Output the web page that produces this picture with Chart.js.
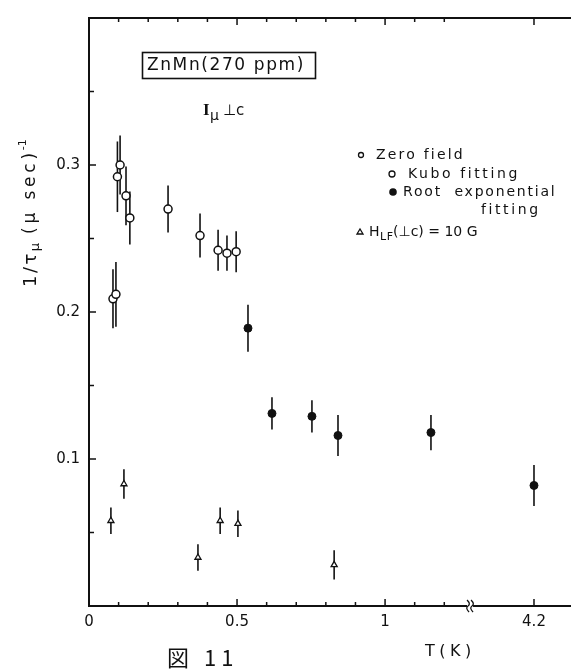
<!DOCTYPE html>
<html>
<head>
<meta charset="utf-8">
<script src="https://cdn.jsdelivr.net/npm/chart.js@4/dist/chart.umd.min.js"></script>
<style>
  html, body { margin: 0; padding: 0; background: #fff; }
  #wrap { position: relative; width: 571px; height: 671px; }
</style>
</head>
<body>
<div id="wrap"><canvas id="c" width="571" height="671"></canvas></div>
<script>
// 数据：T (K) 与 1/tau_mu (us^-1)，误差为 ±
var kuboT   = [0.081, 0.091, 0.096, 0.105, 0.125, 0.138, 0.267, 0.375, 0.436, 0.466, 0.497];
var kuboY   = [0.209, 0.212, 0.292, 0.300, 0.279, 0.264, 0.270, 0.252, 0.242, 0.240, 0.241];
var kuboErr = [0.020, 0.022, 0.024, 0.020, 0.020, 0.018, 0.016, 0.015, 0.014, 0.012, 0.014];

var rootT   = [0.537, 0.618, 0.753, 0.841, 1.155, 4.2];
var rootY   = [0.189, 0.131, 0.129, 0.116, 0.118, 0.082];
var rootErr = [0.016, 0.011, 0.011, 0.014, 0.012, 0.014];

var lfT     = [0.074, 0.118, 0.368, 0.443, 0.503, 0.828];
var lfY     = [0.058, 0.083, 0.033, 0.058, 0.056, 0.028];
var lfErr   = [0.009, 0.010, 0.009, 0.009, 0.009, 0.010];

// 坐标轴刻度
var xTicks  = [0, 0.1, 0.2, 0.3, 0.4, 0.5, 0.6, 0.7, 0.8, 0.9, 1.0, 1.1, 1.2, 4.2];
var xLabels = { '0': '0', '0.5': '0.5', '1': '1', '4.2': '4.2' };
var yTicks  = [0.05, 0.1, 0.15, 0.2, 0.25, 0.3, 0.35];
var yLabels = { '0.1': '0.1', '0.2': '0.2', '0.3': '0.3' };

// 断轴：1.29 之后跳到 4.2
var BREAK_AT = 1.287;
function toAxis(t) {
    return t <= 1.3 ? t : 1.503 + (t - 4.2) * 0.5;
}

function pts(xs, ys) {
    return xs.map(function(t, i) { return { x: toAxis(t), y: ys[i] }; });
}

var FONT = '"DejaVu Sans", "Liberation Sans", sans-serif';

// 带字距的文字
function spaced(ctx, text, x, y, sp) {
    ctx.letterSpacing = sp + 'px';
    ctx.fillText(text, x, y);
    var w = ctx.measureText(text).width;
    ctx.letterSpacing = '0px';
    return w;
}

// 误差棒 + 边框/内刻度 + 文字注释
var decorPlugin = {
    id: 'decor',
    beforeDatasetsDraw: function(chart) {
        var ctx = chart.ctx;
        var xs = chart.scales.x, ys = chart.scales.y;
        ctx.save();
        ctx.strokeStyle = '#111';
        ctx.lineWidth = 1.6;
        chart.data.datasets.forEach(function(ds) {
            ds.data.forEach(function(p, i) {
                var px = xs.getPixelForValue(p.x);
                ctx.beginPath();
                ctx.moveTo(px, ys.getPixelForValue(p.y - ds.errors[i]));
                ctx.lineTo(px, ys.getPixelForValue(p.y + ds.errors[i]));
                ctx.stroke();
            });
        });
        ctx.restore();
    },
    afterDraw: function(chart) {
        var ctx = chart.ctx;
        var a = chart.chartArea;
        var xs = chart.scales.x, ys = chart.scales.y;
        ctx.save();
        ctx.strokeStyle = '#111';
        ctx.lineWidth = 2;
        // 上边框
        ctx.beginPath();
        ctx.moveTo(a.left, a.top);
        ctx.lineTo(a.right, a.top);
        ctx.stroke();

        // 内向刻度
        ctx.lineWidth = 1.5;
        xTicks.forEach(function(t) {
            var px = xs.getPixelForValue(toAxis(t));
            var len = xLabels[String(t)] ? 7 : 4;
            ctx.beginPath();
            ctx.moveTo(px, a.bottom); ctx.lineTo(px, a.bottom - len);
            ctx.moveTo(px, a.top); ctx.lineTo(px, a.top + len);
            ctx.stroke();
        });
        yTicks.forEach(function(v) {
            var py = ys.getPixelForValue(v);
            var len = yLabels[String(v)] ? 7 : 5;
            ctx.beginPath();
            ctx.moveTo(a.left, py); ctx.lineTo(a.left + len, py);
            ctx.stroke();
        });

        // 断轴记号
        var bx = xs.getPixelForValue(BREAK_AT);
        ctx.fillStyle = '#fff';
        ctx.fillRect(bx - 3, a.bottom - 3, 6, 6);
        ctx.lineWidth = 1.3;
        [-2, 2].forEach(function(d) {
            ctx.beginPath();
            ctx.moveTo(bx + d - 1, a.bottom - 6);
            ctx.quadraticCurveTo(bx + d + 3, a.bottom - 2, bx + d, a.bottom);
            ctx.quadraticCurveTo(bx + d - 3, a.bottom + 2, bx + d + 1, a.bottom + 6);
            ctx.stroke();
        });

        ctx.fillStyle = '#111';
        ctx.textBaseline = 'middle';

        // 标题框
        ctx.font = '17px ' + FONT;
        ctx.textAlign = 'left';
        spaced(ctx, 'ZnMn(270 ppm)', 147, 66, 1.6);
        ctx.lineWidth = 1.6;
        ctx.strokeRect(142.5, 52.5, 173, 26);

        // I_mu ⊥ c
        ctx.font = 'bold 17px "Liberation Serif", serif';
        ctx.fillText('I', 203, 111);
        ctx.font = '14px ' + FONT;
        ctx.fillText('\u03bc', 210, 116);
        ctx.font = '15px ' + FONT;
        ctx.fillText('\u22a5c', 223, 111);

        // 图例
        ctx.font = '14px ' + FONT;
        ctx.lineWidth = 1.3;
        ctx.beginPath(); ctx.arc(361, 155, 2.5, 0, Math.PI * 2); ctx.stroke();
        spaced(ctx, 'Zero field', 376, 155, 2.2);
        ctx.beginPath(); ctx.arc(392, 174, 3, 0, Math.PI * 2); ctx.stroke();
        spaced(ctx, 'Kubo fitting', 408, 174, 2.6);
        ctx.beginPath(); ctx.arc(393, 192, 3.8, 0, Math.PI * 2); ctx.fill();
        spaced(ctx, 'Root  exponential', 403, 192, 1.8);
        spaced(ctx, 'fitting', 481, 210, 2.6);
        ctx.beginPath();
        ctx.moveTo(357, 234); ctx.lineTo(363, 234); ctx.lineTo(360, 229); ctx.closePath();
        ctx.stroke();
        ctx.fillText('H', 369, 232);
        ctx.font = '11px ' + FONT;
        spaced(ctx, 'LF', 380, 237, 0.5);
        ctx.font = '14px ' + FONT;
        spaced(ctx, '(\u22a5c) = 10 G', 393, 232, 0);

        // 纵轴标题
        ctx.save();
        ctx.translate(31, 210);
        ctx.rotate(-Math.PI / 2);
        ctx.textAlign = 'left';
        var x0 = -77;
        ctx.font = '18px ' + FONT;
        x0 += spaced(ctx, '1/\u03c4', x0, 0, 2.5);
        ctx.font = '13px ' + FONT;
        x0 += spaced(ctx, '\u03bc', x0, 5, 0) + 9;
        ctx.font = '17px ' + FONT;
        x0 += spaced(ctx, '(\u03bc sec)', x0, 0, 3.8);
        ctx.font = '11px ' + FONT;
        ctx.fillText('-1', x0 - 1, -8);
        ctx.restore();

        // 横轴标题
        ctx.font = '16px ' + FONT;
        spaced(ctx, 'T(K)', 425, 652, 4.5);

        // 图号
        ctx.font = '22px "Noto Sans CJK JP", sans-serif';
        spaced(ctx, '\u56f3 11', 167, 658, 5);
        ctx.restore();
    }
};

new Chart(document.getElementById('c'), {
    type: 'scatter',
    data: {
        datasets: [
            {
                label: 'Kubo fitting',
                data: pts(kuboT, kuboY),
                errors: kuboErr,
                pointStyle: 'circle',
                pointRadius: 4,
                pointBorderWidth: 1.5,
                pointBackgroundColor: '#fff',
                pointBorderColor: '#111'
            },
            {
                label: 'Root exponential fitting',
                data: pts(rootT, rootY),
                errors: rootErr,
                pointStyle: 'circle',
                pointRadius: 4,
                pointBorderWidth: 1,
                pointBackgroundColor: '#111',
                pointBorderColor: '#111'
            },
            {
                label: 'H_LF(⊥c) = 10 G',
                data: pts(lfT, lfY),
                errors: lfErr,
                pointStyle: 'triangle',
                pointRadius: 3.5,
                pointBorderWidth: 1.3,
                pointBackgroundColor: '#fff',
                pointBorderColor: '#111'
            }
        ]
    },
    options: {
        responsive: false,
        animation: false,
        layout: { autoPadding: false, padding: { top: 15, right: 0, left: 0, bottom: 0 } },
        plugins: {
            legend: { display: false },
            tooltip: { enabled: false }
        },
        scales: {
            x: {
                type: 'linear',
                min: 0,
                max: 1.628,
                afterBuildTicks: function(s) {
                    s.ticks = xTicks.map(function(t) { return { value: toAxis(t) }; });
                },
                afterFit: function(s) { s.height = 65; },
                ticks: {
                    autoSkip: false,
                    maxRotation: 0,
                    padding: 7,
                    color: '#111',
                    font: { family: FONT, size: 15 },
                    callback: function(v, i) { return xLabels[String(xTicks[i])] || ''; }
                },
                grid: { display: false, drawTicks: false },
                border: { display: true, color: '#111', width: 2 }
            },
            y: {
                min: 0,
                max: 0.4,
                afterBuildTicks: function(s) {
                    s.ticks = yTicks.map(function(v) { return { value: v }; });
                },
                afterFit: function(s) { s.width = 89; },
                ticks: {
                    autoSkip: false,
                    padding: 9,
                    color: '#111',
                    font: { family: FONT, size: 15 },
                    callback: function(v, i) { return yLabels[String(yTicks[i])] || ''; }
                },
                grid: { display: false, drawTicks: false },
                border: { display: true, color: '#111', width: 2 }
            }
        }
    },
    plugins: [decorPlugin]
});
</script>
</body>
</html>
